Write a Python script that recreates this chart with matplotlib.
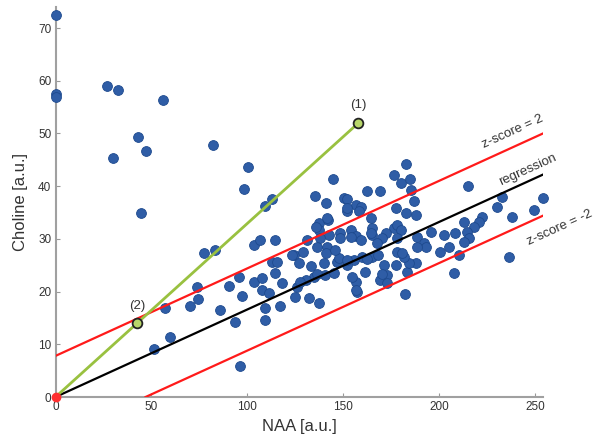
import numpy as np
import matplotlib
matplotlib.use("Agg")
import matplotlib.pyplot as plt

plt.rcParams['font.family'] = ['Liberation Sans', 'DejaVu Sans']

# NAA / Choline values per voxel [a.u.]
naa = [0, 0, 0, 26.7, 32.8, 56.3, 42.9, 47.1, 30.2, 82.4, 100.2, 98.5, 44.5, 109.5, 113,
       77.6, 83.3, 73.8, 74.1, 70.3, 57.2, 59.5, 51.5, 86, 90.3, 95.5, 97.3, 93.8, 96,
       103.3, 106.8, 103.3, 107.7, 107.7, 111.2, 109.1, 109.1, 114.7, 113, 115.6, 114.7,
       118.2, 116.9, 125.1, 124.2,
       144.8, 135.6, 141.3, 150.4, 137.3, 142, 137.3, 142.5, 148.6, 131.2, 148.6,
       182.6, 176.5, 180.4, 184.8, 162.6, 169.2, 185.2, 151.8, 151.8, 156.5, 159.5, 158.2,
       186.9, 177.4, 182.6, 187.8, 164.3, 153.9, 165.2, 165.2, 176.5, 178.3, 180.4, 172.2,
       156.5, 159.1, 170.4, 188.7, 195.7, 192.2, 167.8, 141.7, 152.1, 164.3, 153.9, 141.7,
       138.2, 136.1, 178.3,
       215.4, 254.0, 233.1, 230.5, 249.6, 238.3, 222.7, 220.9, 213.1, 218.3, 214.8, 202.6,
       208.4, 215.7, 213.1, 236.3, 207.8, 205.2, 193, 188.7,
       182.1, 187.8, 183.5, 184.3, 177.4, 178.3, 181.7, 173, 171.3, 169.5, 172.7, 157.4,
       156.5, 154.8, 160, 165.2, 162.6, 155.6, 152.1, 146.9, 139.9, 140.8, 145.1, 134.7,
       130.4, 126, 132.1, 137.3,
       136.5, 141.3, 123.4, 126.9, 133, 147.8, 136.5, 127.7, 180.8, 170.4, 156.5, 152.1,
       200.5, 210.5, 168.0, 161.5, 146.0, 129.0]
cho = [72.5, 57.5, 56.9, 59.0, 58.3, 56.4, 49.3, 46.7, 45.4, 47.9, 43.7, 39.5, 34.9, 36.2, 37.5,
       27.3, 27.8, 20.9, 18.6, 17.3, 16.8, 11.4, 9.2, 16.5, 21.1, 22.7, 19.2, 14.3, 5.8,
       28.8, 29.8, 21.9, 22.5, 20.3, 19.7, 16.8, 14.7, 29.8, 25.7, 25.7, 23.5,
       21.6, 17.3, 18.9, 26.9,
       41.3, 38.2, 36.8, 37.7, 33.0, 33.6, 31.7, 30.7, 31.1, 29.8, 30.1,
       44.3, 42.1, 40.7, 41.3, 39.0, 39.0, 39.3, 37.5, 35.3, 36.4, 36.1, 35.2,
       37.2, 35.8, 34.9, 34.5, 33.9, 31.7, 32.0, 30.7, 32.0, 32.6, 31.7, 31.2,
       30.5, 29.8, 30.1, 30.4, 31.4, 29.2, 29.2, 33.9, 35.8, 31.1, 30.4, 28.5,
       30.1, 32.3, 30.1,
       40.0, 37.8, 38.0, 36.0, 35.5, 34.2, 34.2, 33.3, 33.3, 32.3, 31.4, 30.7,
       31.2, 30.1, 29.5, 26.6, 23.6, 28.5, 28.5, 28.5,
       19.5, 25.4, 23.8, 25.5, 25.0, 27.6, 26.6, 23.1, 25.0, 22.2, 21.6, 20.0,
       21.9, 22.8, 26.6, 26.6, 26.1, 26.0, 25.0, 25.7, 25.4, 23.1, 23.5, 22.8,
       22.2, 20.9, 18.7, 17.8,
       28.5, 27.4, 26.9, 25.4, 24.9, 26.3, 23.3, 21.9, 27.3, 23.3, 20.3, 26.0,
       27.6, 26.9, 27.0, 23.8, 27.9, 27.6]

# regression through origin and the +/- 2 z-score band
slope = 0.166
band = 7.8
x_max = 254.0

# reference line through points (1) and (2)
ref_x = [0, 42.4, 158.0]
ref_y = [0, 14.0, 52.0]

fig = plt.figure(figsize=(5.95, 4.45), dpi=100)
ax = fig.add_axes([55.5 / 595, 1 - 397 / 445, 487 / 595, 390 / 445])

ax.scatter(naa, cho, s=50, color='#2F5DA6', edgecolor='#1E4A8E', linewidth=0.6,
           zorder=3, clip_on=False)

xs = np.array([0, x_max])
ax.plot(xs, slope * xs, color='black', lw=1.6, zorder=4)
ax.plot(xs, slope * xs + band, color='#FF1A1A', lw=1.6, zorder=4)
x_low = band / slope
ax.plot([x_low, x_max], [0, slope * x_max - band], color='#FF1A1A', lw=1.6, zorder=4)

ax.plot([ref_x[0], ref_x[-1]], [ref_y[0], ref_y[-1]], color='#99C140', lw=2.0, zorder=5)
ax.plot(ref_x[1:], ref_y[1:], 'o', ms=7, mfc='#B8D66A', mec='#222222', mew=1.3, zorder=6)
ax.plot([0], [0], 'o', ms=6, mfc='#FF3030', mec='#FF3030', zorder=6, clip_on=False)

ax.text(ref_x[2], ref_y[2] + 2.2, '(1)', ha='center', va='bottom', fontsize=9.5, color='#333333')
ax.text(ref_x[1], ref_y[1] + 2.2, '(2)', ha='center', va='bottom', fontsize=9.5, color='#333333')

ang = 24.4
ax.text(238.5, 50.3, 'z-score = 2', rotation=ang, ha='center', va='center',
        fontsize=9.5, color='#333333', rotation_mode='anchor')
ax.text(246.5, 43.2, 'regression', rotation=ang, ha='center', va='center',
        fontsize=9.5, color='#333333', rotation_mode='anchor')
ax.text(263.0, 32.2, 'z-score = -2', rotation=ang, ha='center', va='center',
        fontsize=9.5, color='#333333', rotation_mode='anchor')

ax.set_xlim(0, x_max)
ax.set_ylim(0, 74)
ax.set_xticks([0, 50, 100, 150, 200, 250])
ax.set_yticks([0, 10, 20, 30, 40, 50, 60, 70])
ax.tick_params(direction='in', length=3, color='#999999', labelsize=8.5,
               labelcolor='#333333', pad=3)
for side in ['top', 'right']:
    ax.spines[side].set_visible(False)
for side in ['left', 'bottom']:
    ax.spines[side].set_color('#A0A0A0')
    ax.spines[side].set_linewidth(1.5)

ax.set_xlabel('NAA [a.u.]', fontsize=12, color='#333333', labelpad=4)
ax.set_ylabel('Choline [a.u.]', fontsize=12, color='#333333', labelpad=7)

fig.savefig('out.png', dpi=100)
